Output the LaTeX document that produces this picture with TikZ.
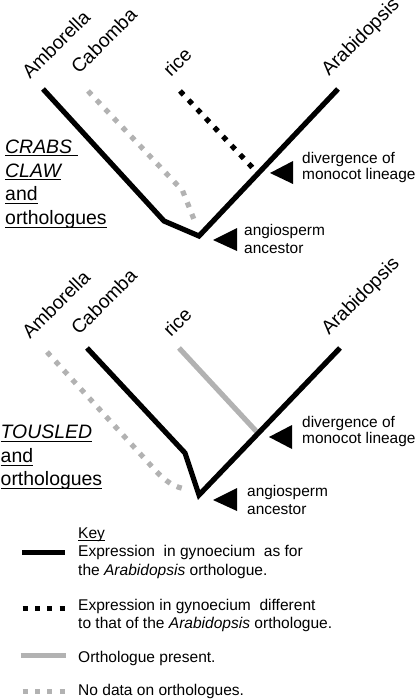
\documentclass[tikz,border=0pt]{standalone}
\usepackage{fontspec}
\setmainfont{Liberation Sans}
\definecolor{treegray}{RGB}{178,178,178}
\newcommand\myul[2][3.4bp]{\setbox0\hbox{#2}\rlap{\rule[-#1]{\wd0}{1.2bp}}\box0}
\tikzset{
  blk/.style={line width=5.2bp, black, line join=miter},
  blkdot/.style={line width=5.2bp, black, dash pattern=on 5.2bp off 7.3bp},
  gry/.style={line width=5.2bp, treegray},
  grydot/.style={line width=5.2bp, treegray, dash pattern=on 5.2bp off 7.3bp},
  taxon/.style={rotate=45, anchor=base west, inner sep=0pt, font=\fontsize{19.3}{20}\selectfont},
  note/.style={anchor=base west, inner sep=0pt, font=\fontsize{15.5}{16}\selectfont},
  gene/.style={anchor=base west, inner sep=0pt, font=\fontsize{19.5}{23.6}\selectfont},
  keytext/.style={anchor=base west, inner sep=0pt, font=\fontsize{15.6}{19}\selectfont},
  tri/.style={fill=black}
}
\begin{document}
\begin{tikzpicture}[x=1bp,y=-1bp]
\useasboundingbox (0,0) rectangle (416,699);

% ---------- top tree (CRABS CLAW) ----------
\coordinate (tAmb) at (43,89);
\coordinate (tAmbE) at (164,221);
\coordinate (tRoot) at (199,236);
\coordinate (tAra) at (338,89);
\coordinate (tCab) at (88,91);
\coordinate (tCabE) at (182.5,190.5);
\coordinate (tCabX) at (195,222);
\coordinate (tRice) at (180,91);
\coordinate (tRiceDir) at (249,164);
\coordinate (tJoin) at (intersection of tRice--tRiceDir and tAra--tRoot);

\draw[grydot] (tCab) -- (tCabE) -- (tCabX);
\draw[blkdot] (tRice) -- (tJoin);
\draw[blk] (tAmb) -- (tAmbE) -- (tRoot) -- (tAra);

\node[taxon] (tAmbL) at (30,80) {Amborella};
\node[taxon] (tCabL) at (79,75) {Cabomba};
\node[taxon] (tRiceL) at (171,78) {rice};
\node[taxon] (tAraL) at (329,77) {Arabidopsis};

\fill[tri] (270,173) -- (293,161) -- (293,184) -- cycle;
\fill[tri] (213,240) -- (237,228) -- (237,251) -- cycle;
\node[note] (tDiv1) at (302,163) {divergence of};
\node[note] (tDiv2) at (302,179) {monocot lineage};
\node[note] (tAng1) at (244,235) {angiosperm};
\node[note] (tAng2) at (244,253) {ancestor};

\node[gene] (tG1) at (5,153) {\myul{\itshape CRABS\ }};
\node[gene] (tG2) at (5,177) {\myul{\itshape CLAW}};
\node[gene] (tG3) at (5,200.5) {\myul{and}};
\node[gene] (tG4) at (5,224.5) {\myul{orthologues}};

% ---------- bottom tree (TOUSLED) ----------
\coordinate (bAmb) at (47,352);
\coordinate (bAmbE) at (155,470);
\coordinate (bAmbX) at (187,489);
\coordinate (bCab) at (87,348);
\coordinate (bCabE) at (185,453);
\coordinate (bRoot) at (199,495);
\coordinate (bAra) at (340,348);
\coordinate (bRice) at (179,348);
\coordinate (bRiceDir) at (256,431);
\coordinate (bJoin) at (intersection of bRice--bRiceDir and bAra--bRoot);

\draw[grydot] (bAmb) -- (bAmbE) .. controls (165,481) and (175,488) .. (bAmbX);
\draw[gry] (bRice) -- (bJoin);
\draw[blk] (bCab) -- (bCabE) -- (bRoot) -- (bAra);

\node[taxon] (bAmbL) at (30,340) {Amborella};
\node[taxon] (bCabL) at (79,336) {Cabomba};
\node[taxon] (bRiceL) at (171,338) {rice};
\node[taxon] (bAraL) at (329,336) {Arabidopsis};

\fill[tri] (269,437) -- (292,425) -- (292,449) -- cycle;
\fill[tri] (213,500) -- (237,488) -- (237,511) -- cycle;
\node[note] (bDiv1) at (302,427) {divergence of};
\node[note] (bDiv2) at (302,443.5) {monocot lineage};
\node[note] (bAng1) at (247,496) {angiosperm};
\node[note] (bAng2) at (247,514) {ancestor};

\node[gene] (bG1) at (0.5,438.5) {\myul{\itshape TOUSLED}};
\node[gene] (bG2) at (0.5,462.5) {\myul{and}};
\node[gene] (bG3) at (0.5,485.5) {\myul{orthologues}};

% ---------- key ----------
\node[keytext] (kTitle) at (78,538.3) {\myul[2.4bp]{Key}};
\coordinate (k1a) at (22,552);   \coordinate (k1b) at (65,552);
\coordinate (k2a) at (22.7,608.5); \coordinate (k2b) at (66,608.5);
\coordinate (k3a) at (20.7,655.5); \coordinate (k3b) at (65.7,655.5);
\coordinate (k4a) at (22.7,691);   \coordinate (k4b) at (66,691);
\draw[line width=5bp, black] (k1a) -- (k1b);
\draw[line width=5bp, black, dash pattern=on 5bp off 7.3bp] (k2a) -- (k2b);
\draw[line width=5bp, treegray] (k3a) -- (k3b);
\draw[line width=5bp, treegray, dash pattern=on 5bp off 7.3bp] (k4a) -- (k4b);

\node[keytext] (k1t1) at (78,556.7) {Expression\ \ in gynoecium\ \ as for};
\node[keytext] (k1t2) at (78,575.7) {the \textit{Arabidopsis} orthologue.};
\node[keytext] (k2t1) at (78,610) {Expression in gynoecium\ \ different};
\node[keytext] (k2t2) at (78,628.3) {to that of the \textit{Arabidopsis} orthologue.};
\node[keytext] (k3t1) at (78,662.3) {Orthologue present.};
\node[keytext] (k4t1) at (78,695) {No data on orthologues.};
\end{tikzpicture}
\end{document}
